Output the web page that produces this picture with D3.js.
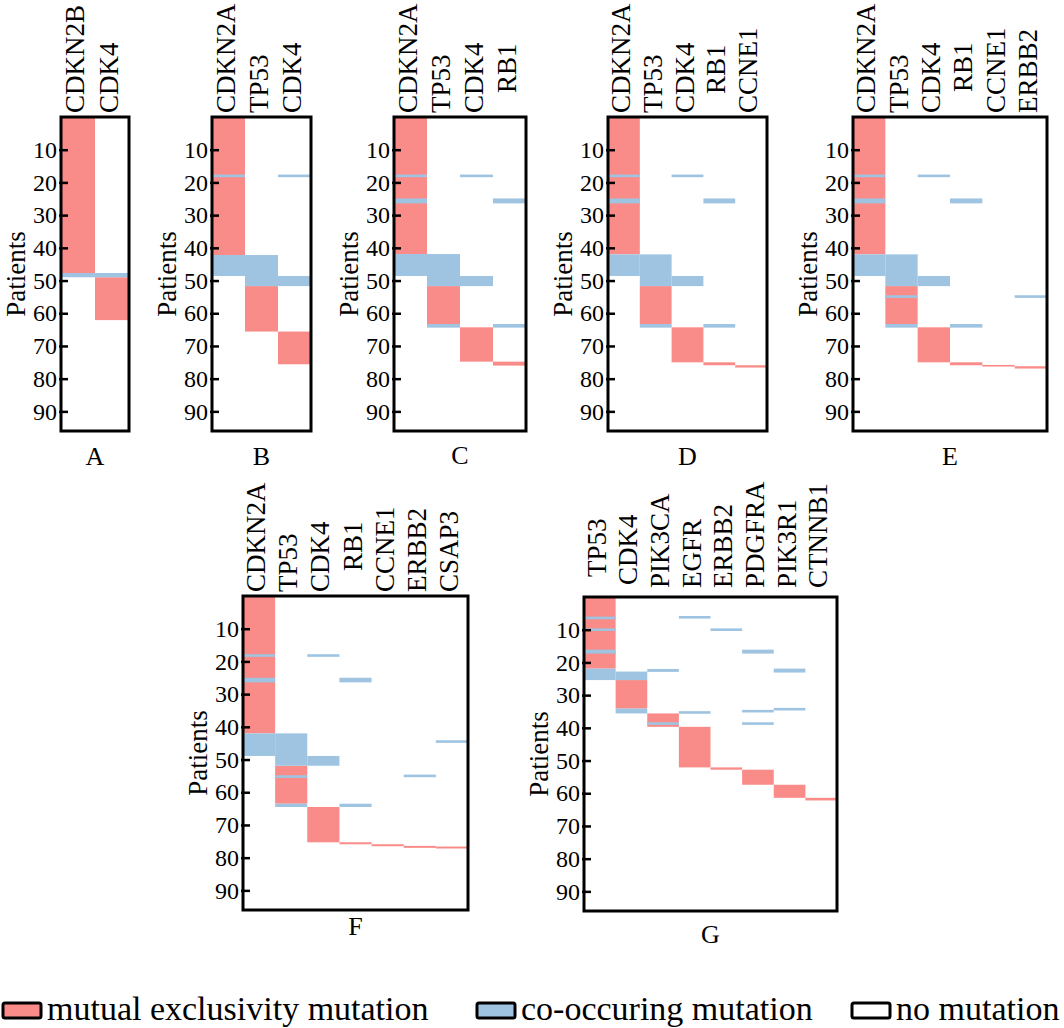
<!DOCTYPE html>
<html><head><meta charset="utf-8">
<script src="https://cdn.jsdelivr.net/npm/d3@7"></script>
<style>
body{margin:0;background:#fff}
svg text{font-family:"Liberation Serif","Times New Roman",serif;fill:#000}
</style>
</head><body>
<svg id="chart" width="1064" height="1028"></svg>
<script>
// ---------- DATA ----------
const patientTicks = [10, 20, 30, 40, 50, 60, 70, 80, 90];
const patientDomain = [0, 96];
const panelLetters = ["A", "B", "C", "D", "E", "F", "G"];
const legendLabels = ["mutual exclusivity mutation", "co-occuring mutation", "no mutation"];

// cells: [gene index, first patient, last patient, type]  m = mutual exclusivity, c = co-occurring
const genesA = ["CDKN2B", "CDK4"];
const cellsA = [
  [0, 0, 47.7, "m"], [1, 49, 62.1, "m"],
  [0, 47.7, 49, "c"], [1, 47.7, 49, "c"]
];

const genesB = ["CDKN2A", "TP53", "CDK4"];
const cellsB = [
  [0, 0, 42.2, "m"], [1, 51.7, 65.6, "m"], [2, 65.6, 75.6, "m"],
  [0, 17.6, 18.4, "c"], [2, 17.6, 18.4, "c"],
  [0, 42.2, 48.6, "c"], [1, 42.2, 51.7, "c"], [2, 48.6, 51.7, "c"]
];

const genesC = ["CDKN2A", "TP53", "CDK4", "RB1"];
const cellsC = [
  [0, 0, 41.9, "m"], [1, 51.7, 63.3, "m"], [2, 64.3, 74.8, "m"], [3, 74.8, 76.0, "m"],
  [0, 17.6, 18.4, "c"], [2, 17.6, 18.4, "c"],
  [0, 24.9, 26.4, "c"], [3, 24.9, 26.4, "c"],
  [0, 41.9, 48.6, "c"], [1, 41.9, 51.7, "c"], [2, 48.6, 51.7, "c"],
  [1, 63.3, 64.4, "c"], [3, 63.3, 64.4, "c"]
];

const genesD = ["CDKN2A", "TP53", "CDK4", "RB1", "CCNE1"];
const cellsD = [
  [0, 0, 42.0, "m"], [1, 51.7, 63.3, "m"], [2, 64.3, 75.0, "m"], [3, 75.0, 75.9, "m"], [4, 75.9, 76.6, "m"],
  [0, 17.6, 18.4, "c"], [2, 17.6, 18.4, "c"],
  [0, 24.9, 26.4, "c"], [3, 24.9, 26.4, "c"],
  [0, 42.0, 48.6, "c"], [1, 42.0, 51.7, "c"], [2, 48.6, 51.7, "c"],
  [1, 63.3, 64.4, "c"], [3, 63.3, 64.4, "c"]
];

const genesE = ["CDKN2A", "TP53", "CDK4", "RB1", "CCNE1", "ERBB2"];
const cellsE = [
  [0, 0, 42.0, "m"], [1, 51.7, 63.3, "m"], [2, 64.3, 75.0, "m"], [3, 75.0, 75.9, "m"], [4, 75.8, 76.3, "m"], [5, 76.2, 76.9, "m"],
  [0, 17.6, 18.4, "c"], [2, 17.6, 18.4, "c"],
  [0, 24.9, 26.4, "c"], [3, 24.9, 26.4, "c"],
  [0, 42.0, 48.6, "c"], [1, 42.0, 51.7, "c"], [2, 48.6, 51.7, "c"],
  [1, 54.5, 55.3, "c"], [5, 54.5, 55.3, "c"],
  [1, 63.3, 64.4, "c"], [3, 63.3, 64.4, "c"]
];

const genesF = ["CDKN2A", "TP53", "CDK4", "RB1", "CCNE1", "ERBB2", "CSAP3"];
const cellsF = [
  [0, 0, 42.0, "m"], [1, 51.9, 63.5, "m"], [2, 64.5, 75.3, "m"], [3, 75.3, 75.9, "m"], [4, 75.9, 76.5, "m"], [5, 76.4, 77.0, "m"], [6, 76.6, 77.2, "m"],
  [0, 17.8, 18.6, "c"], [2, 17.8, 18.6, "c"],
  [0, 25.0, 26.4, "c"], [3, 25.0, 26.4, "c"],
  [0, 42.0, 48.9, "c"], [1, 42.0, 51.9, "c"], [2, 48.9, 51.9, "c"],
  [6, 44.1, 44.9, "c"],
  [1, 54.8, 55.6, "c"], [5, 54.6, 55.4, "c"],
  [1, 63.5, 64.5, "c"], [3, 63.5, 64.5, "c"]
];

const genesG = ["TP53", "CDK4", "PIK3CA", "EGFR", "ERBB2", "PDGFRA", "PIK3R1", "CTNNB1"];
const cellsG = [
  [0, 0, 21.9, "m"], [1, 25.4, 34.1, "m"], [2, 35.6, 39.7, "m"], [3, 39.7, 52.1, "m"],
  [4, 52.1, 52.8, "m"], [5, 52.8, 57.4, "m"], [6, 57.4, 61.4, "m"], [7, 61.4, 62.2, "m"],
  [0, 6.0, 6.8, "c"], [3, 5.8, 6.6, "c"],
  [0, 9.6, 10.4, "c"], [4, 9.6, 10.4, "c"],
  [0, 16.1, 17.3, "c"], [5, 16.1, 17.3, "c"],
  [0, 21.9, 25.4, "c"], [1, 22.8, 25.4, "c"], [2, 22.0, 22.9, "c"], [6, 21.9, 23.1, "c"],
  [1, 34.1, 35.6, "c"], [3, 34.9, 35.7, "c"], [5, 34.5, 35.3, "c"], [6, 33.9, 34.7, "c"],
  [2, 38.3, 39.1, "c"], [5, 38.3, 39.1, "c"]
];

// ---------- LAYOUT / STYLE ----------
const colorM = "#f98b88", colorC = "#9ec4e2";
const FRAME_H = 314;
const panels = [
  {genes: genesA, cells: cellsA, x: 61,  y: 117, w: 68,  letterY: 465, gap: 4, lift: {}},
  {genes: genesB, cells: cellsB, x: 212, y: 117, w: 99,  letterY: 465, gap: 4, lift: {}},
  {genes: genesC, cells: cellsC, x: 394, y: 117, w: 132, letterY: 464, gap: 4, lift: {RB1: 20}},
  {genes: genesD, cells: cellsD, x: 608, y: 117, w: 159, letterY: 465, gap: 4, lift: {RB1: 19}},
  {genes: genesE, cells: cellsE, x: 853, y: 117, w: 194, letterY: 465, gap: 4, lift: {RB1: 21}},
  {genes: genesF, cells: cellsF, x: 243, y: 596, w: 225, letterY: 935, gap: 4, lift: {RB1: 21}},
  {genes: genesG, cells: cellsG, x: 584, y: 597, w: 253, letterY: 943, gap: 9, lift: {TP53: 11, CDK4: 3}}
];

const svg = d3.select("#chart");

panels.forEach((p, i) => {
  const g = svg.append("g").attr("transform", `translate(${p.x},${p.y})`);
  const yS = d3.scaleLinear().domain(patientDomain).range([0, FRAME_H]);
  const xS = d3.scaleBand().domain(p.genes).range([0, p.w]);

  const ordered = p.cells.filter(c => c[3] === "m").concat(p.cells.filter(c => c[3] === "c"));
  g.selectAll("rect.cell").data(ordered).join("rect")
    .attr("class", "cell")
    .attr("x", d => xS(p.genes[d[0]]))
    .attr("width", xS.bandwidth())
    .attr("y", d => yS(d[1]))
    .attr("height", d => yS(d[2]) - yS(d[1]))
    .attr("fill", d => d[3] === "m" ? colorM : colorC);

  g.append("rect").attr("x", 0).attr("y", 0).attr("width", p.w).attr("height", FRAME_H)
    .attr("fill", "none").attr("stroke", "#000").attr("stroke-width", 3);

  const ax = g.append("g").call(d3.axisLeft(yS).tickValues(patientTicks).tickSizeInner(-7).tickSizeOuter(0).tickPadding(4));
  ax.select(".domain").remove();
  ax.selectAll(".tick line").attr("x1", -2).attr("stroke", "#000").attr("stroke-width", 2.5);
  ax.selectAll(".tick text").attr("font-size", 24).attr("font-family", '"Liberation Serif","Times New Roman",serif').attr("fill", "#000");

  g.selectAll("text.gene").data(p.genes).join("text")
    .attr("class", "gene")
    .attr("transform", d => `translate(${xS(d) + xS.bandwidth() / 2 + 6},${-p.gap - (p.lift[d] || 0)}) rotate(-90)`)
    .attr("text-anchor", "start")
    .attr("font-size", 27)
    .text(d => d);

  g.append("text")
    .attr("transform", `translate(-36,${FRAME_H / 2}) rotate(-90)`)
    .attr("text-anchor", "middle")
    .attr("font-size", 27)
    .text("Patients");

  g.append("text")
    .attr("x", p.w / 2).attr("y", p.letterY - p.y)
    .attr("text-anchor", "middle")
    .attr("font-size", 26)
    .text(panelLetters[i]);
});

// ---------- LEGEND ----------
const legendItems = [
  {label: legendLabels[0], fill: colorM, x: 3},
  {label: legendLabels[1], fill: colorC, x: 477},
  {label: legendLabels[2], fill: "#ffffff", x: 852}
];
const lg = svg.append("g");
legendItems.forEach(it => {
  lg.append("rect").attr("x", it.x).attr("y", 1003).attr("width", 38).attr("height", 15)
    .attr("rx", 2).attr("fill", it.fill).attr("stroke", "#000").attr("stroke-width", 3);
  lg.append("text").attr("x", it.x + 44).attr("y", 1020).attr("font-size", 34).text(it.label);
});
</script>
</body></html>
